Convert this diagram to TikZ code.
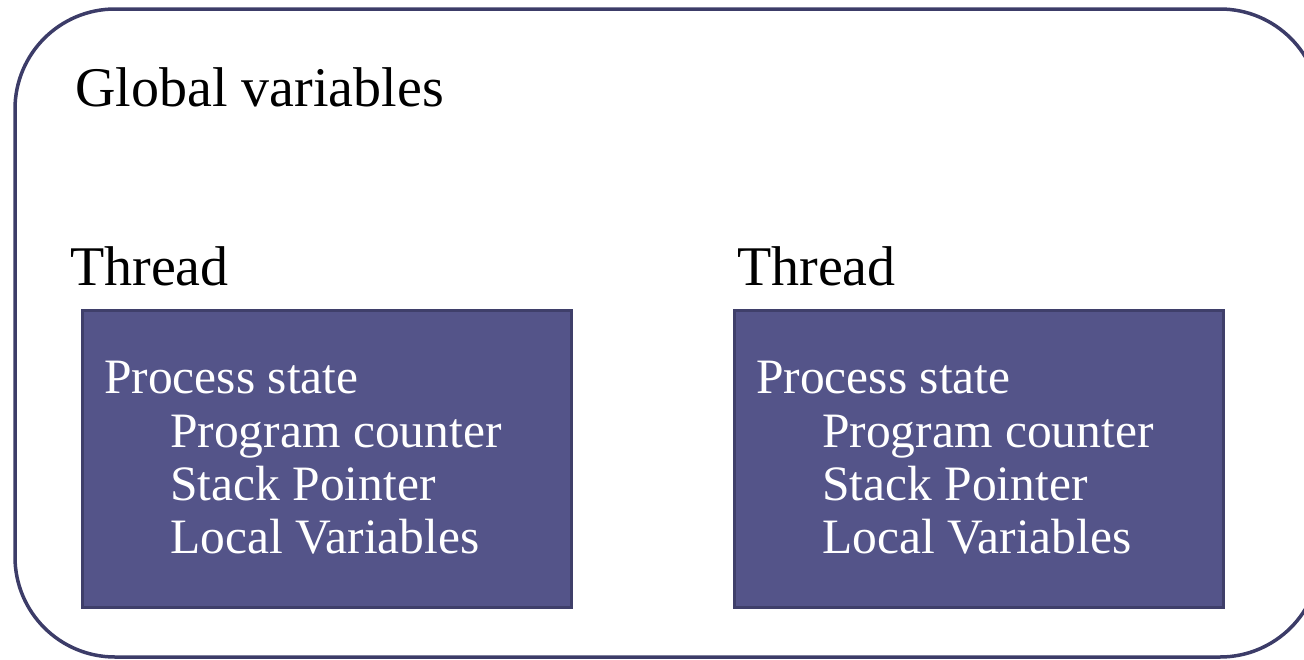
\documentclass[tikz,border=0pt]{standalone}
\usepackage{fontspec}
\setmainfont{Liberation Serif}
\definecolor{frameblue}{HTML}{3C3C68}
\definecolor{boxfill}{HTML}{545489}
\definecolor{boxedge}{HTML}{3F3F6A}
\tikzset{
  px/.style={x=1pt,y=-1pt},
  bigtext/.style={anchor=base west,inner sep=0pt,font=\fontsize{56}{60}\selectfont},
  threadbox/.style={draw=boxedge,fill=boxfill,line width=3pt,minimum width=489pt,minimum height=297pt,anchor=north west,inner sep=0pt},
  boxtext/.style={anchor=base west,inner sep=0pt,text=white,font=\fontsize{49.5}{53}\selectfont},
}
\begin{document}
\begin{tikzpicture}[px]
\useasboundingbox (0,0) rectangle (1304,659);
\begin{scope}
\clip (0,0) rectangle (1304,659);
\draw[frameblue,line width=3.5pt,rounded corners=100pt] (15,9) rectangle (1320,657);
\end{scope}
\node[bigtext] (global) at (75,106) {Global variables};
\foreach \tx/\dx/\n in {70/0/1,737/652/2}{
  \node[bigtext] (thread\n) at (\tx,285) {Thread};
  \node[threadbox] (box\n) at (81+\dx,309) {};
  \node[boxtext] (state\n) at (104+\dx,393) {Process state};
  \node[boxtext] (pc\n) at (170+\dx,447) {Program counter};
  \node[boxtext] (sp\n) at (170+\dx,500) {Stack Pointer};
  \node[boxtext] (lv\n) at (170+\dx,553) {Local Variables};
}
\end{tikzpicture}
\end{document}
